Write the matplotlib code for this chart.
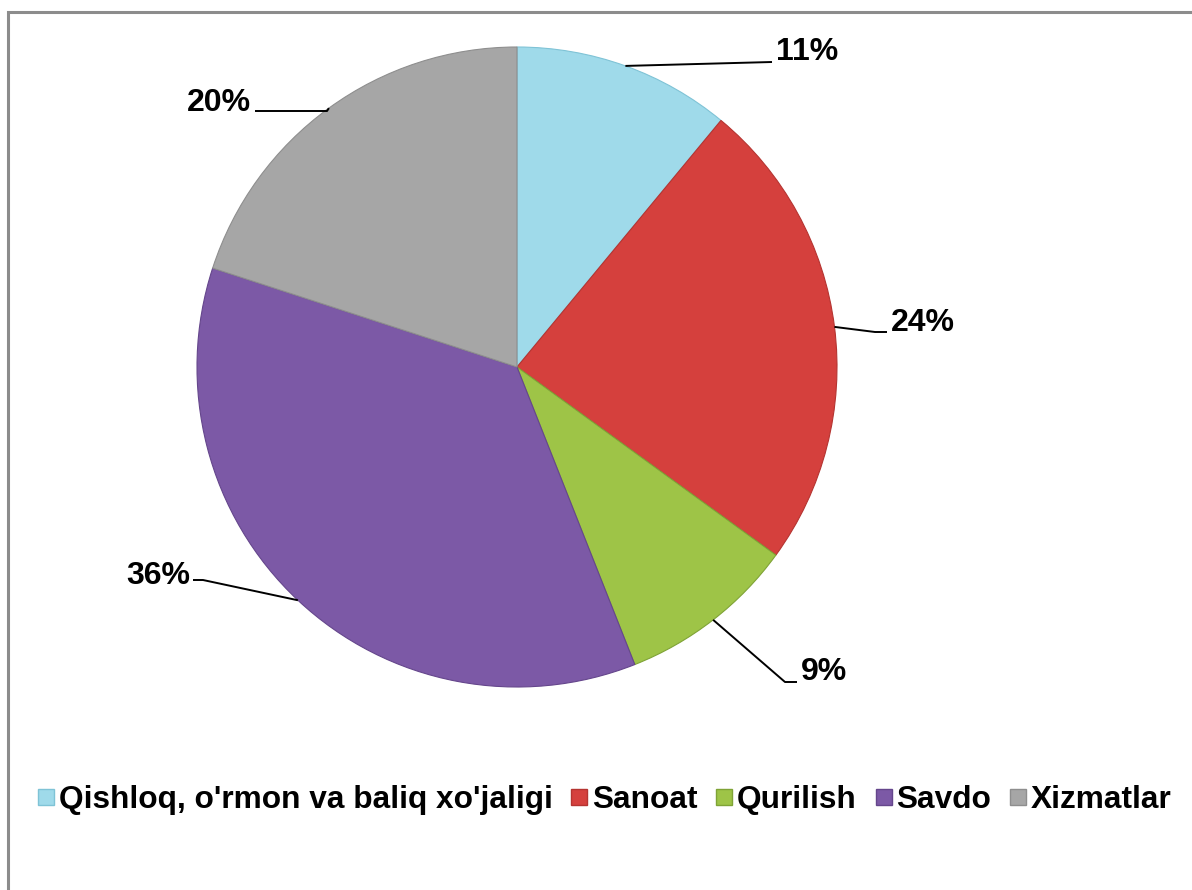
import numpy as np
import matplotlib
matplotlib.use("Agg")
import matplotlib.pyplot as plt
from matplotlib.patches import Rectangle
from matplotlib.lines import Line2D

categories = ["Qishloq, o'rmon va baliq xo'jaligi", "Sanoat", "Qurilish", "Savdo", "Xizmatlar"]
values = [11, 24, 9, 36, 20]
labels = ["11%", "24%", "9%", "36%", "20%"]
colors = ["#9FDAEA", "#D5403D", "#9EC447", "#7C59A6", "#A6A6A6"]
edge_colors = ["#7FC3D6", "#B53431", "#7FA336", "#65468C", "#8E8E8E"]

plt.rcParams['font.family'] = ['Liberation Sans', 'DejaVu Sans']

W, H = 1192, 890
fig = plt.figure(figsize=(W / 100, H / 100), dpi=100)
fig.patch.set_facecolor("white")

# chart border
fig.add_artist(Rectangle((8 / W, -0.05), 1.2, 1 - 12 / H + 0.05, transform=fig.transFigure,
                         fill=False, edgecolor="#8C8C8C", linewidth=2.2))

cx, cy, R = 517, 367, 320
ax = fig.add_axes([(cx - R) / W, 1 - (cy + R) / H, 2 * R / W, 2 * R / H])

wedges, _ = ax.pie(values, colors=colors, startangle=90, counterclock=False, radius=1,
                   wedgeprops=dict(linewidth=1.0, edgecolor="white"))
for w, ec in zip(wedges, edge_colors):
    w.set_edgecolor(ec)
    w.set_linewidth(0.8)
ax.set_xlim(-1, 1)
ax.set_ylim(-1, 1)
ax.set_aspect("equal")
ax.axis("off")

# label layout: (elbow_x, elbow_y, end_x, end_y, text_x, text_y, ha) in pixels
def px(x, y):
    return ((x - cx) / R, (cy - y) / R)

layout = [
    (772, 62, 772, 62, 776, 52, "left"),
    (875, 332, 887, 332, 891, 323, "left"),
    (785, 682, 797, 682, 801, 672, "left"),
    (203, 580, 193, 580, 190, 576, "right"),
    (327, 111, 255, 111, 251, 103, "right"),
]

for w, lay, lab in zip(wedges, layout, labels):
    ang = np.deg2rad((w.theta1 + w.theta2) / 2)
    ax_, ay_ = np.cos(ang), np.sin(ang)
    ex, ey = px(lay[0], lay[1])
    fx, fy = px(lay[2], lay[3])
    tx, ty = px(lay[4], lay[5])
    ax.plot([ax_, ex, fx], [ay_, ey, fy], color="black", lw=1.4, clip_on=False,
            solid_capstyle="butt")
    ax.text(tx, ty, lab, ha=lay[6], va="center", fontsize=23, fontweight="bold",
            color="black", clip_on=False)

handles = [Line2D([], [], marker="s", linestyle="none", markersize=11.5,
                  markerfacecolor=c, markeredgecolor=ec, markeredgewidth=1.0)
           for c, ec in zip(colors, edge_colors)]
fig.legend(handles, categories, loc="center", bbox_to_anchor=(604 / W, 1 - 800 / H),
           ncol=5, frameon=False, handlelength=0.6, handletextpad=0.1,
           columnspacing=0.55, prop=dict(size=22.8, weight="bold"))

fig.savefig("out.png", dpi=100, facecolor="white")
